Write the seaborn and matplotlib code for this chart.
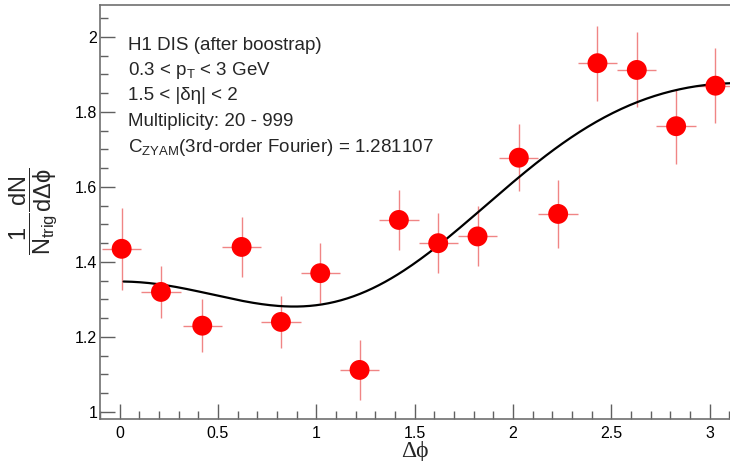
import numpy as np
import pandas as pd
import matplotlib
matplotlib.use("Agg")
import matplotlib.pyplot as plt
import seaborn as sns
from matplotlib.ticker import MultipleLocator

# ---- data ----
dphi = [0.01, 0.21, 0.42, 0.62, 0.82, 1.02, 1.22, 1.42, 1.62, 1.82,
        2.03, 2.23, 2.43, 2.63, 2.83, 3.03]
yield_vals = [1.435, 1.320, 1.230, 1.440, 1.240, 1.370, 1.112, 1.512, 1.450, 1.468,
              1.678, 1.528, 1.930, 1.912, 1.762, 1.870]
yerr = [0.11, 0.07, 0.07, 0.08, 0.07, 0.08, 0.08, 0.08, 0.08, 0.08,
        0.09, 0.09, 0.10, 0.10, 0.10, 0.10]
xerr = [0.1] * 16
# 3rd-order Fourier fit coefficients: c0 + c1 cos + c2 cos2 + c3 cos3
fourier_c = [1.518, -0.298, 0.0943, 0.0335]
fit_range = [0.02, 3.2]

info_lines = [
    "H1 DIS (after boostrap)",
    r"0.3 < p$_{\mathregular{T}}$ < 3 GeV",
    "1.5 < |δη| < 2",
    "Multiplicity: 20 - 999",
    r"C$_{\mathregular{ZYAM}}$(3rd-order Fourier) = 1.281107",
]

sns.set_theme(style="white")
plt.rcParams["font.family"] = ["Liberation Sans", "DejaVu Sans"]
plt.rcParams["mathtext.fontset"] = "custom"
plt.rcParams["mathtext.rm"] = "Liberation Sans"
plt.rcParams["mathtext.it"] = "Liberation Sans"
plt.rcParams["mathtext.bf"] = "Liberation Sans:bold"

fig = plt.figure(figsize=(7.30, 4.61), dpi=100)
ax = fig.add_axes([0.137, 0.091, 0.863, 0.898])

df = pd.DataFrame({"dphi": dphi, "y": yield_vals})

xf = np.linspace(fit_range[0], fit_range[1], 300)
yf = sum(c * np.cos(k * xf) for k, c in enumerate(fourier_c))
fit_df = pd.DataFrame({"x": xf, "y": yf})

ax.errorbar(dphi, yield_vals, xerr=xerr, yerr=yerr, fmt="none",
            ecolor="#f08585", elinewidth=1.0, capsize=0, zorder=2)
sns.lineplot(data=fit_df, x="x", y="y", ax=ax, color="black", linewidth=1.6,
             sort=False, zorder=3)
sns.scatterplot(data=df, x="dphi", y="y", ax=ax, color="#ff0000", s=205,
                edgecolor="none", linewidth=0, zorder=4)

ax.set_xlim(-0.1, 3.104)
ax.set_ylim(0.981, 2.085)

ax.xaxis.set_major_locator(MultipleLocator(0.5))
ax.xaxis.set_minor_locator(MultipleLocator(0.1))
ax.yaxis.set_major_locator(MultipleLocator(0.2))
ax.yaxis.set_minor_locator(MultipleLocator(0.05))
ax.set_xticks([0, 0.5, 1, 1.5, 2, 2.5, 3])
ax.set_xticklabels(["0", "0.5", "1", "1.5", "2", "2.5", "3"])
ax.set_yticks([1, 1.2, 1.4, 1.6, 1.8, 2])
ax.set_yticklabels(["1", "1.2", "1.4", "1.6", "1.8", "2"])

ax.tick_params(axis="both", which="major", direction="in", length=11, width=1,
               color="#606060", labelsize=11.5, labelcolor="black", pad=5)
ax.tick_params(axis="both", which="minor", direction="in", length=5.5, width=1,
               color="#606060")
ax.tick_params(axis="y", which="major", pad=2)
ax.tick_params(axis="x", which="both", bottom=True, top=False)
ax.tick_params(axis="y", which="both", left=True, right=False)

for side in ["left", "bottom", "top"]:
    ax.spines[side].set_color("#707070")
    ax.spines[side].set_linewidth(1.2)
ax.spines["right"].set_visible(False)

ax.set_xlabel("Δϕ", family=["Liberation Serif", "DejaVu Serif"], fontsize=17, labelpad=0)
ax.set_ylabel("")

fig.text(0.046, 0.542, r"$\dfrac{1}{N_{\mathregular{trig}}}\dfrac{dN}{d\Delta\phi}$",
         rotation=90, ha="center", va="center", fontsize=17)

y0 = 45
for i, line in enumerate(info_lines):
    ax.text(128 / 730, 1 - (y0 + i * 25.5) / 461, line, transform=fig.transFigure,
            ha="left", va="center", fontsize=13.5)

fig.savefig("out.png", dpi=100)
